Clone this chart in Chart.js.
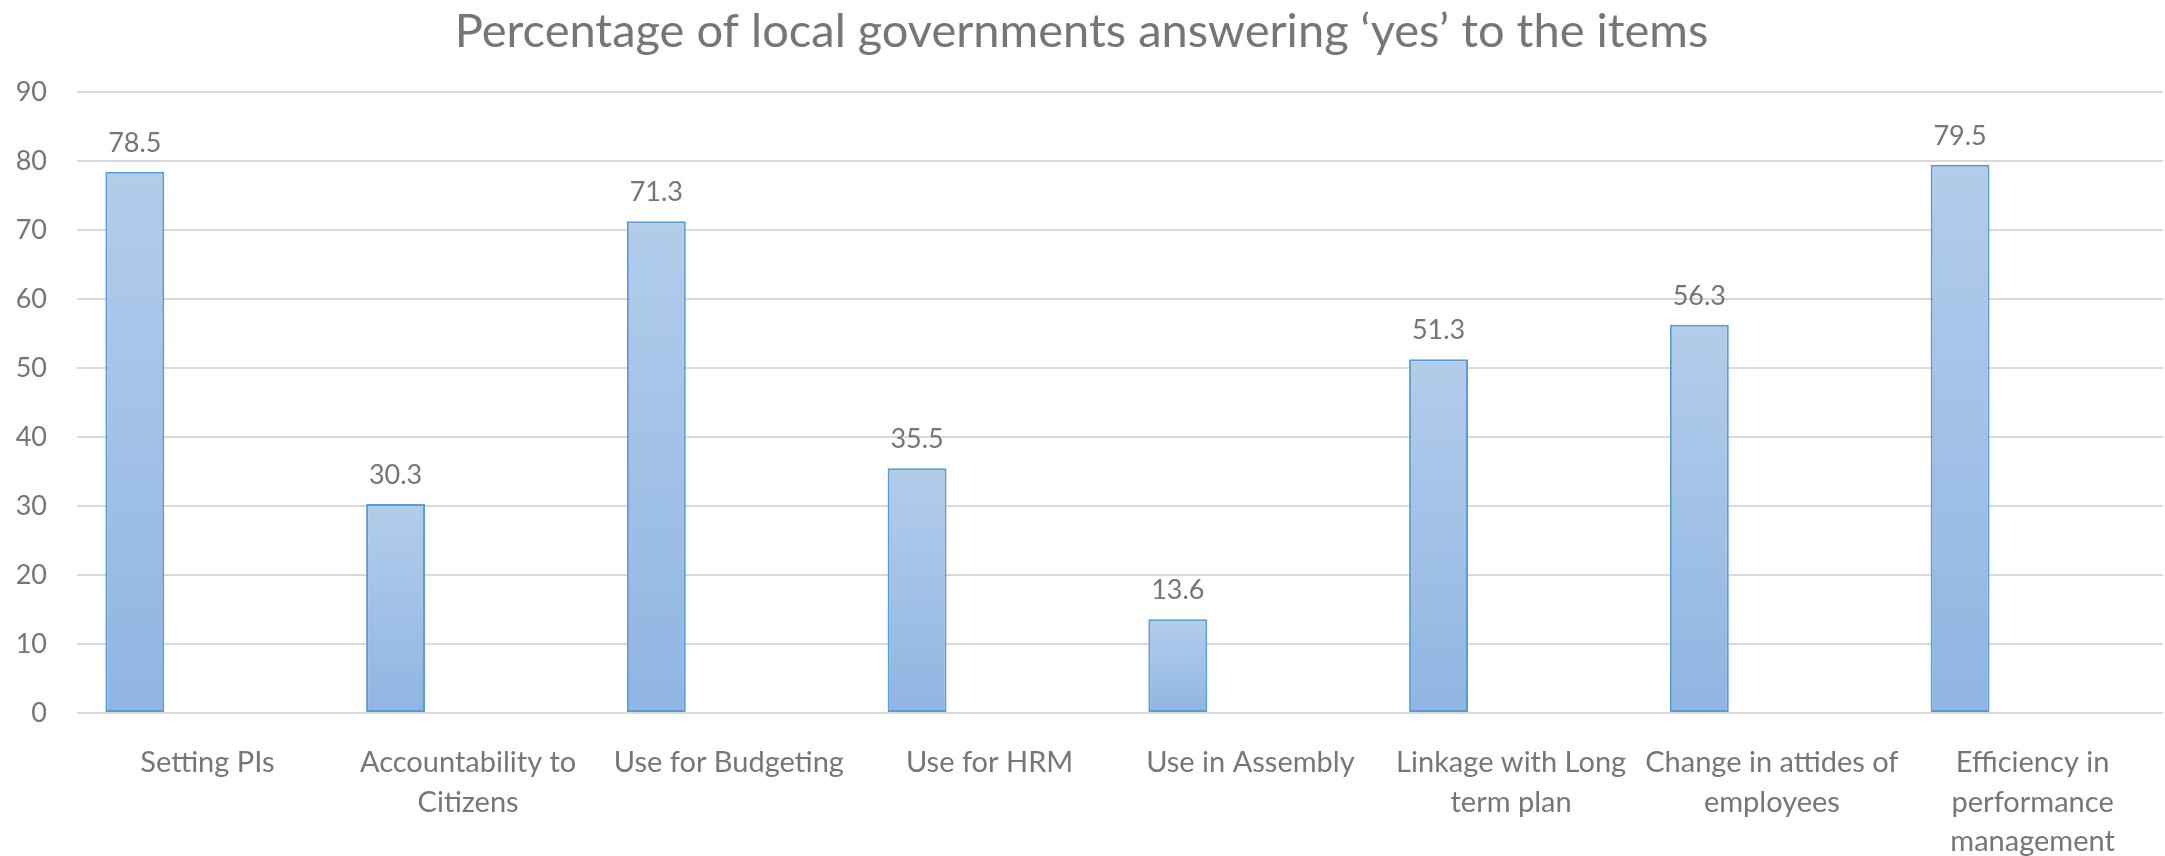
<!DOCTYPE html>
<html>
<head>
<meta charset="utf-8">
<script src="https://cdn.jsdelivr.net/npm/chart.js@4.4.1/dist/chart.umd.min.js"></script>
<style>
  html, body { margin: 0; padding: 0; background: #ffffff; }
  #wrap { width: 2165px; height: 856px; position: relative; }
</style>
</head>
<body>
<div id="wrap"><canvas id="c" width="2165" height="856"></canvas></div>
<script>
const titleText = 'Percentage of local governments answering \u2018yes\u2019 to the items';
const categories = [
  'Setting PIs',
  ['Accountability to', 'Citizens'],
  'Use for Budgeting',
  'Use for HRM',
  'Use in Assembly',
  ['Linkage with Long', 'term plan'],
  ['Change in attides of', 'employees'],
  ['Efficiency in', 'performance', 'management']
];
const yesValues = [78.5, 30.3, 71.3, 35.5, 13.6, 51.3, 56.3, 79.5];
const emptySeries = [null, null, null, null, null, null, null, null];
const yMin = 0, yMax = 90, yStep = 10;

const textColor = '#767676';
const fontFamily = 'Lato, "Open Sans", sans-serif';

function barGradient(context) {
  const chart = context.chart;
  const y = chart.scales && chart.scales.y;
  if (!y || context.type !== 'data') return '#a3c2e7';
  const v = context.raw;
  if (v == null) return '#a3c2e7';
  const top = y.getPixelForValue(v);
  const bottom = y.getPixelForValue(0);
  if (!isFinite(top) || !isFinite(bottom) || top === bottom) return '#a3c2e7';
  const g = chart.ctx.createLinearGradient(0, top, 0, bottom);
  g.addColorStop(0, '#b2cdea');
  g.addColorStop(1, '#90b5e3');
  return g;
}

const valueLabels = {
  id: 'valueLabels',
  afterDatasetsDraw(chart) {
    const ctx = chart.ctx;
    const meta = chart.getDatasetMeta(0);
    ctx.save();
    ctx.font = '27px ' + fontFamily;
    ctx.fillStyle = textColor;
    ctx.textAlign = 'center';
    ctx.textBaseline = 'alphabetic';
    meta.data.forEach((bar, i) => {
      const v = chart.data.datasets[0].data[i];
      if (v == null) return;
      ctx.fillText(v.toFixed(1), bar.x, bar.y - 20);
    });
    ctx.restore();
  }
};

new Chart(document.getElementById('c'), {
  type: 'bar',
  data: {
    labels: categories,
    datasets: [
      {
        label: 'Yes',
        data: yesValues,
        backgroundColor: barGradient,
        borderColor: '#5b9bd5',
        borderWidth: 2,
        borderSkipped: false,
        categoryPercentage: 1.113,
        barPercentage: 0.406
      },
      {
        label: '',
        data: emptySeries,
        backgroundColor: 'rgba(0,0,0,0)',
        categoryPercentage: 1.113,
        barPercentage: 0.406
      }
    ]
  },
  options: {
    responsive: false,
    animation: false,
    devicePixelRatio: 1,
    layout: { padding: { left: 0, right: 2, top: 0, bottom: 0 } },
    plugins: {
      legend: { display: false },
      tooltip: { enabled: false },
      title: {
        display: true,
        text: titleText,
        color: textColor,
        font: { family: fontFamily, size: 47, weight: 'normal' },
        padding: { top: 4, bottom: 32 }
      }
    },
    scales: {
      x: {
        grid: { display: false, drawTicks: false },
        border: { display: false },
        ticks: {
          color: textColor,
          font: { family: fontFamily, size: 29, lineHeight: 1.36 },
          padding: 30,
          maxRotation: 0,
          autoSkip: false
        },
        afterFit(scale) { scale.height = 143; }
      },
      y: {
        min: yMin,
        max: yMax,
        grid: { color: '#d9d9d9', lineWidth: 2, drawTicks: false },
        border: { display: false },
        ticks: {
          stepSize: yStep,
          color: textColor,
          font: { family: fontFamily, size: 27 },
          padding: 30
        },
        afterFit(scale) { scale.width = 77; }
      }
    }
  },
  plugins: [valueLabels]
});
</script>
</body>
</html>
